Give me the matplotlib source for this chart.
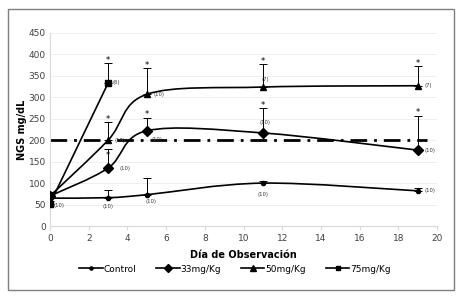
import numpy as np
import matplotlib
matplotlib.use("Agg")
import matplotlib.pyplot as plt
from matplotlib.path import Path
from matplotlib.patches import PathPatch, Rectangle
from matplotlib.lines import Line2D

# data
days = [0, 3, 5, 11, 19]
control = [65, 66, 73, 100, 82]
control_err = [14, 18, 38, 6, 6]
dose33 = [70, 135, 222, 217, 177]
dose33_err = [10, 45, 30, 58, 80]
dose50 = [70, 200, 307, 324, 327]
dose50_err = [10, 42, 62, 54, 45]
days75 = [0, 3]
dose75 = [52, 333]
dose75_err = [6, 48]
threshold = 200
threshold_end = 19.5

series_names = ["Control", "33mg/Kg", "50mg/Kg", "75mg/Kg"]

# group size labels: (day, value, text, dx px, dy px, ha)
n_labels = [
    (0, 52, "(10)", 3, -2, "left"),
    (3, 66, "(10)", 0, -9, "center"),
    (5, 73, "(10)", 4, -7, "center"),
    (11, 100, "(10)", 0, -11, "center"),
    (19, 82, "(10)", 7, 0, "left"),
    (3, 135, "(10)", 11, 0, "left"),
    (5, 222, "(10)", 5, -9, "left"),
    (11, 217, "(10)", 2, 10, "center"),
    (19, 177, "(10)", 7, 0, "left"),
    (3, 200, "(10)", 6, 0, "left"),
    (5, 307, "(10)", 7, 0, "left"),
    (11, 324, "(7)", 2, 8, "center"),
    (19, 327, "(7)", 7, 0, "left"),
    (3, 333, "(6)", 4, 1, "left"),
]
stars = [(3, 386), (3, 248), (3, 165), (5, 374), (5, 259), (11, 383), (11, 281),
         (19, 379), (19, 264)]


def smooth_path(xs, ys):
    # Excel style smoothed line (Catmull-Rom as cubic bezier)
    pts = list(zip(xs, ys))
    verts = [pts[0]]
    codes = [Path.MOVETO]
    n = len(pts)
    for i in range(n - 1):
        p0 = pts[i - 1] if i > 0 else pts[i]
        p1 = pts[i]
        p2 = pts[i + 1]
        p3 = pts[i + 2] if i + 2 < n else pts[i + 1]
        c1 = (p1[0] + (p2[0] - p0[0]) / 6, p1[1] + (p2[1] - p0[1]) / 6)
        c2 = (p2[0] - (p3[0] - p1[0]) / 6, p2[1] - (p3[1] - p1[1]) / 6)
        verts += [c1, c2, p2]
        codes += [Path.CURVE4] * 3
    return Path(verts, codes)


fig = plt.figure(figsize=(4.7, 3.04), dpi=100)
fig.patches.append(Rectangle((8 / 470, 1 - 290 / 304), 446 / 470, 281 / 304,
                             transform=fig.transFigure, fill=False,
                             edgecolor="#7f7f7f", linewidth=1.0))
ax = fig.add_axes([50 / 470, 1 - 226 / 304, 387 / 470, 193 / 304])

ax.set_xlim(0, 20)
ax.set_ylim(0, 450)
ax.set_xticks(range(0, 21, 2))
ax.set_yticks(range(0, 451, 50))
ax.grid(axis="y", color="#ececec", linewidth=0.6)
ax.set_axisbelow(True)
for s in ["top", "right"]:
    ax.spines[s].set_visible(False)
for s in ["left", "bottom"]:
    ax.spines[s].set_color("#d9d9d9")
    ax.spines[s].set_linewidth(0.8)
ax.tick_params(axis="both", labelsize=6.5, length=3, color="#d9d9d9", pad=3,
               labelcolor="#404040")
ax.tick_params(axis="y", length=0)

ax.plot([0, threshold_end], [threshold, threshold], color="black", lw=2.0,
        linestyle=(0, (6, 2.5, 1, 2.5)), zorder=2)

styles = [
    (days, control, control_err, "o", 3),
    (days, dose33, dose33_err, "D", 5),
    (days, dose50, dose50_err, "^", 5),
    (days75, dose75, dose75_err, "s", 4.5),
]
handles = []
for (xs, ys, err, mk, ms), name in zip(styles, series_names):
    ax.add_patch(PathPatch(smooth_path(xs, ys), fill=False, edgecolor="black",
                           lw=1.2, zorder=3))
    ax.errorbar(xs, ys, yerr=[np.zeros(len(err)), err], fmt="none",
                ecolor="black", elinewidth=0.7, capsize=3, capthick=0.7, zorder=3)
    ax.plot(xs, ys, linestyle="none", marker=mk, color="black", ms=ms, zorder=4)
    handles.append(Line2D([], [], color="black", lw=1.2, marker=mk, ms=ms * 0.75,
                          label=name))

for x, y, t, dx, dy, ha in n_labels:
    ax.annotate(t, (x, y), xytext=(dx, dy), textcoords="offset pixels",
                fontsize=3.8, va="center", ha=ha, color="#333333")
for x, y in stars:
    ax.text(x, y, "*", fontsize=6, ha="center", va="center", color="black")

ax.set_xlabel("Día de Observación", fontsize=7, fontweight="bold", labelpad=5)
ax.set_ylabel("NGS mg/dL", fontsize=7, fontweight="bold", labelpad=1)

fig.legend(handles=handles, loc="center", bbox_to_anchor=(0.5, 1 - 269 / 304),
           ncol=4, frameon=False, fontsize=6.5, handlelength=2.6,
           columnspacing=2.2, handletextpad=0.1)

fig.savefig("out.png", dpi=100)
